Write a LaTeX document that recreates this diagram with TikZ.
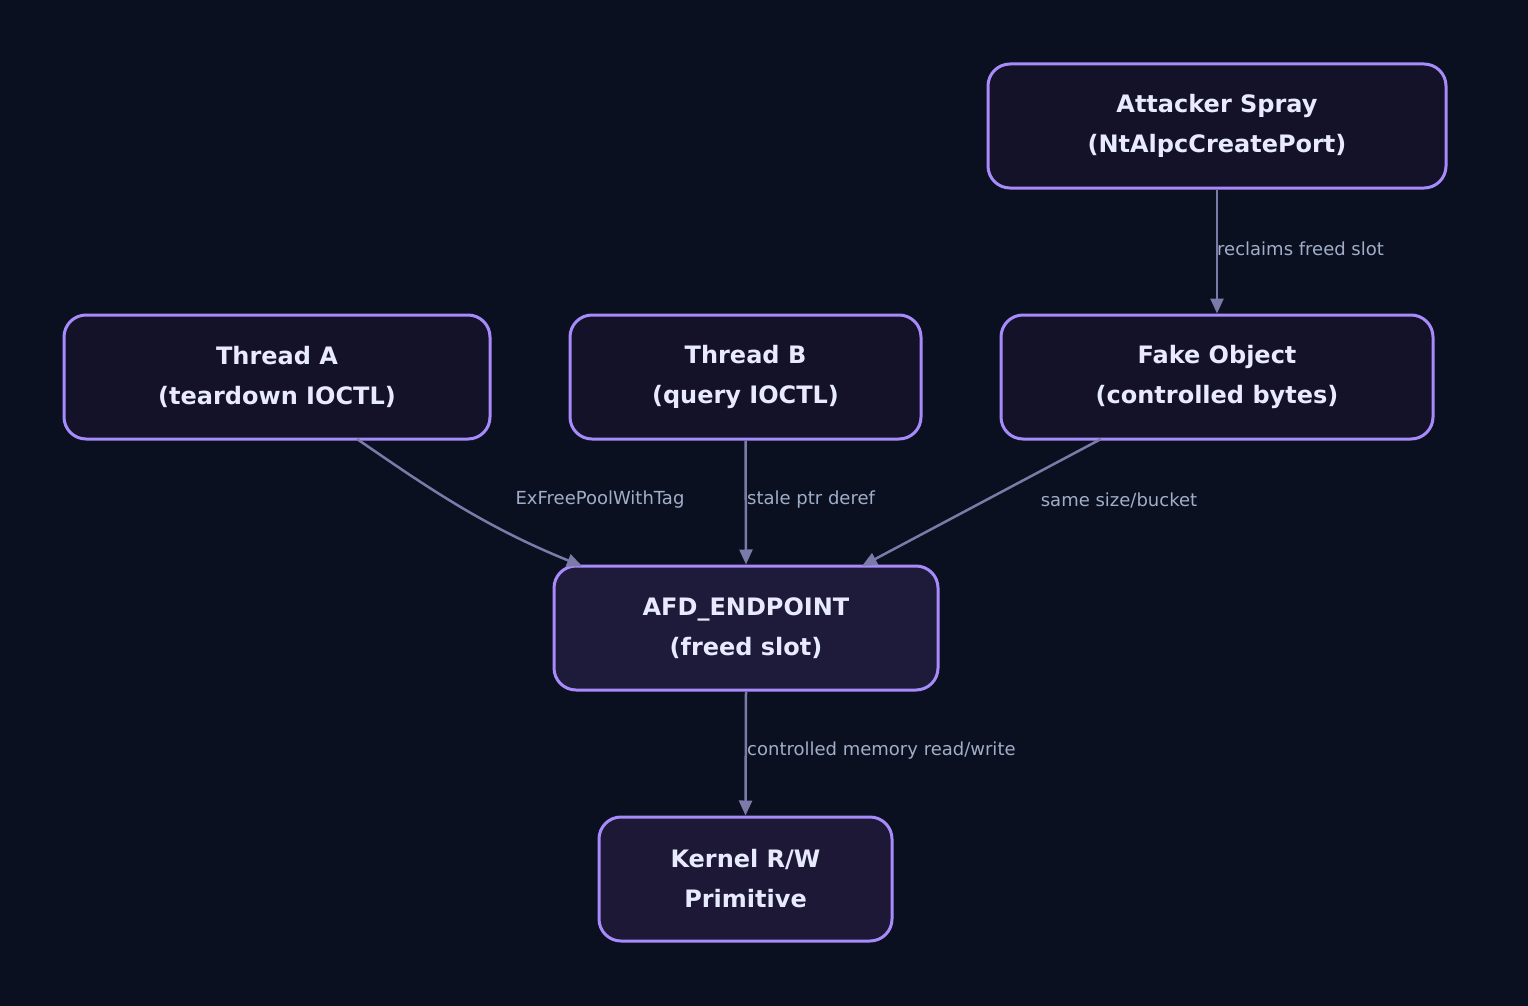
\documentclass[tikz,border=0pt]{standalone}
\usepackage{fontspec}
\setmainfont{DejaVu Sans}
\usetikzlibrary{arrows.meta}
\definecolor{bg}{HTML}{0B1020}
\definecolor{nfill}{HTML}{141228}
\definecolor{nfill2}{HTML}{1E1A3A}
\definecolor{nborder}{HTML}{A78BFA}
\definecolor{ntext}{HTML}{E8EAFF}
\definecolor{edgec}{HTML}{7C7AA8}
\definecolor{labc}{HTML}{A0AEC8}
\begin{document}
\begin{tikzpicture}[x=1pt,y=-1pt,
  box/.style={draw=nborder,line width=3pt,fill=nfill,rounded corners=22pt,minimum height=124pt,
    text=ntext,font=\fontsize{24}{40}\selectfont\bfseries,align=center,inner sep=0pt},
  conn/.style={draw=edgec,line width=2.5pt,-{Triangle[length=15pt,width=13pt]}},
  lab/.style={text=labc,font=\fontsize{18}{22}\selectfont,inner sep=0pt}]
\fill[bg] (0,0) rectangle (1528,1006);
\useasboundingbox (0,0) rectangle (1528,1006);
\node[box,minimum width=458pt] (spray) at (1217,126) {Attacker Spray\\(NtAlpcCreatePort)};
\node[box,minimum width=426pt] (ta) at (277,377) {Thread A\\(teardown IOCTL)};
\node[box,minimum width=351pt] (tb) at (745.5,377) {Thread B\\(query IOCTL)};
\node[box,minimum width=432pt] (fake) at (1217,377) {Fake Object\\(controlled bytes)};
\node[box,minimum width=384pt,fill=nfill2] (afd) at (746,628) {AFD\_ENDPOINT\\(freed slot)};
\node[box,minimum width=293pt,fill=nfill2!80!nfill] (kern) at (745.5,879) {Kernel R/W\\Primitive};
\coordinate (ta1) at (357,439);
\coordinate (afdA) at (582,566);
\draw[conn] (ta1) .. controls (420,482) and (480,525) .. (afdA);
\draw[conn] (tb.south) -- (afd.north);
\coordinate (f1) at (1101,439);
\coordinate (afdF) at (862,566);
\draw[conn] (f1) -- (afdF);
\draw[conn] (spray.south) -- (fake.north);
\draw[conn] (afd.south) -- (kern.north);
\node[lab] (l1) at (600,500) {ExFreePoolWithTag};
\node[lab,anchor=west] (l2) at (747,500) {stale ptr deref};
\node[lab] (l3) at (1119,500) {same size/bucket};
\node[lab,anchor=west] (l4) at (1217,249) {reclaims freed slot};
\node[lab,anchor=west] (l5) at (747,751) {controlled memory read/write};
\end{tikzpicture}
\end{document}
